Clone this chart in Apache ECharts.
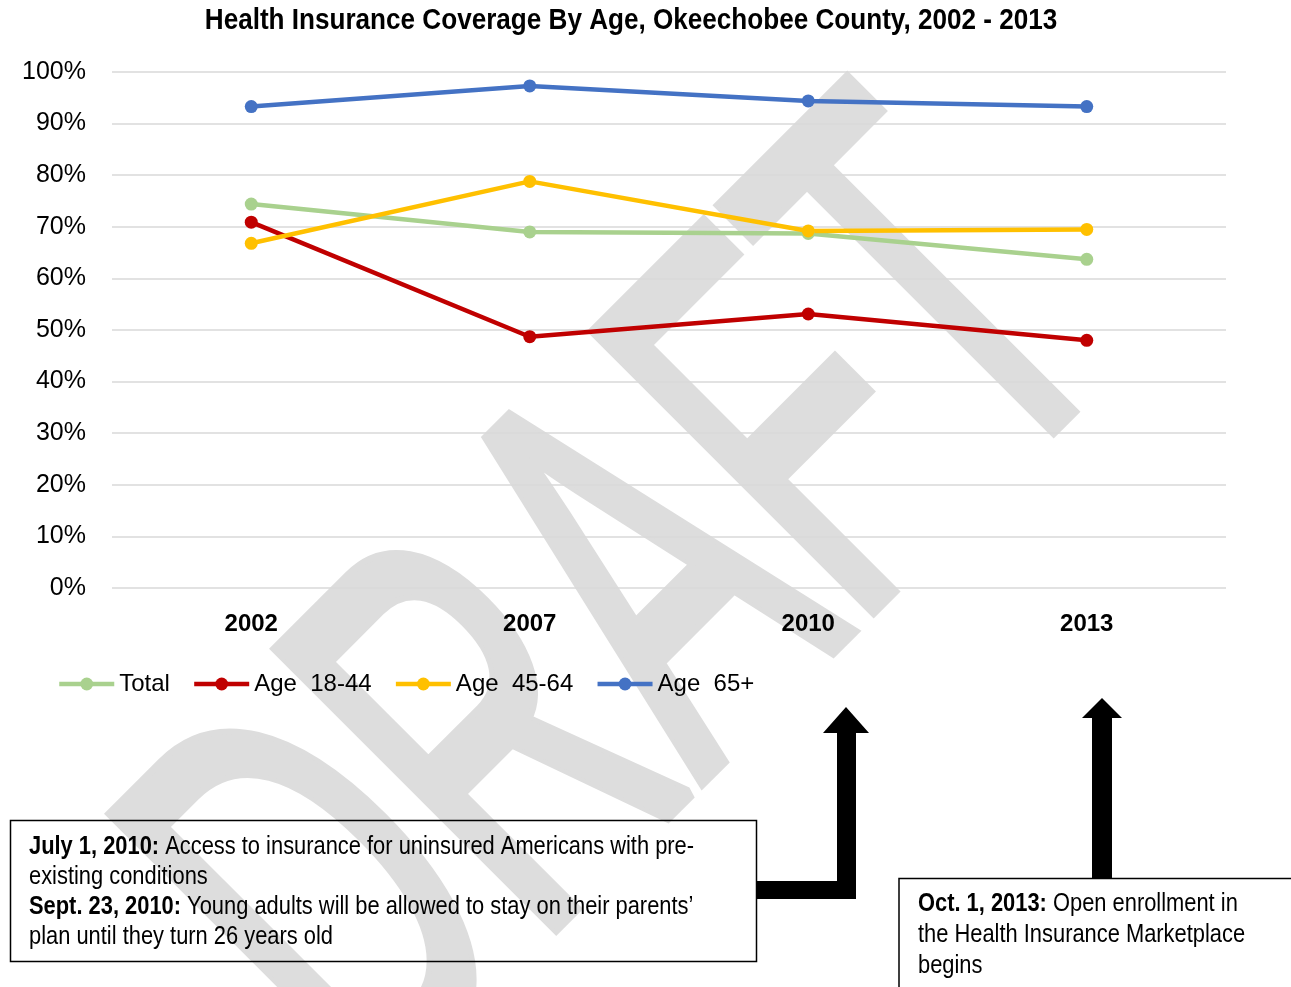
<!DOCTYPE html>
<html>
<head>
<meta charset="utf-8">
<script src="https://cdn.jsdelivr.net/npm/echarts@6/dist/echarts.min.js"></script>
<style>
html, body { margin: 0; padding: 0; background: #fff; }
#main { width: 1291px; height: 987px; }
</style>
</head>
<body>
<div id="main"></div>
<script>
// categories + values (percent)
var years = ['2002', '2007', '2010', '2013'];
var total = [74.4, 69.0, 68.7, 63.7];
var age1844 = [70.9, 48.7, 53.1, 48.0];
var age4564 = [66.8, 78.8, 69.2, 69.5];
var age65 = [93.3, 97.3, 94.4, 93.3];

var seriesNames = ['Total', 'Age  18-44', 'Age  45-64', 'Age  65+'];
var seriesColors = ['#a9d18e', '#c00000', '#ffc000', '#4472c4'];
var seriesData = [total, age1844, age4564, age65];

var FONT = '"Liberation Sans", Arial, sans-serif';
var NARROW = 0.875; // squeeze Arial to look like the narrow font of the original

function makeSeries() {
	var list = [];
	for (var i = 0; i < seriesData.length; i++) {
		list.push({
			name: seriesNames[i],
			type: 'line',
			data: seriesData[i],
			symbol: 'circle',
			symbolSize: 13,
			color: seriesColors[i],
			lineStyle: { width: 4.5, color: seriesColors[i] },
			itemStyle: { color: seriesColors[i] },
			z: 5
		});
	}
	return list;
}

var chart = echarts.init(document.getElementById('main'));

var option = {
	backgroundColor: '#fff',
	animation: false,
	legend: {
		left: 52,
		top: 667,
		itemWidth: 55,
		itemHeight: 16,
		itemGap: 22,
		lineStyle: { width: 4.5 },
		textStyle: { fontFamily: FONT, fontSize: 24, color: '#000' },
		data: seriesNames
	},
	grid: { left: 112, right: 65, top: 72, bottom: 399, containLabel: false },
	xAxis: {
		type: 'category',
		data: years,
		axisLine: { show: false },
		axisTick: { show: false },
		axisLabel: { fontFamily: FONT, fontSize: 24, fontWeight: 'bold', color: '#000', margin: 24 }
	},
	yAxis: {
		type: 'value',
		min: 0,
		max: 100,
		interval: 10,
		axisLine: { show: false },
		axisTick: { show: false },
		axisLabel: { fontFamily: FONT, fontSize: 25, color: '#000', margin: 26, formatter: '{value}%' },
		splitLine: { lineStyle: { color: '#d9d9d9', width: 1.5 } }
	},
	graphic: [
		// title
		{
			type: 'text',
			x: 631,
			y: 21,
			scaleX: 0.9,
			z: 30,
			style: {
				text: 'Health Insurance Coverage By Age, Okeechobee County, 2002 - 2013',
				fontFamily: FONT,
				fontSize: 29,
				fontWeight: 'bold',
				fill: '#000',
				align: 'center',
				verticalAlign: 'middle'
			}
		},
		// DRAFT watermark, under everything else
		{
			type: 'text',
			x: 640,
			y: 620,
			rotation: Math.PI / 4,
			scaleX: 0.567,
			z: -1,
			silent: true,
			style: {
				text: 'DRAFT',
				fontFamily: FONT,
				fontSize: 570,
				fill: '#dddddd',
				stroke: '#dddddd',
				lineWidth: 14,
				strokeNoScale: true,
				lineJoin: 'round',
				lineCap: 'round',
				align: 'center',
				verticalAlign: 'middle'
			}
		},
		// arrow to 2010
		{
			type: 'polygon',
			z: 20,
			shape: { points: [[846, 707], [869, 733], [856, 733], [856, 899], [756, 899], [756, 881], [837, 881], [837, 733], [823, 733]] },
			style: { fill: '#000' }
		},
		// arrow to 2013
		{
			type: 'polygon',
			z: 20,
			shape: { points: [[1102, 698], [1122, 718], [1112, 718], [1112, 878], [1092, 878], [1092, 718], [1082, 718]] },
			style: { fill: '#000' }
		},
		// left note box
		{
			type: 'rect',
			z: 20,
			shape: { x: 10.5, y: 820.5, width: 746, height: 141 },
			style: { fill: 'rgba(0,0,0,0)', stroke: '#000', lineWidth: 1.5 }
		},
		{
			type: 'text',
			z: 21,
			x: 29,
			y: 832,
			scaleX: NARROW,
			style: {
				text: '{b|July 1, 2010:} Access to insurance for uninsured Americans with pre-\nexisting conditions\n{b|Sept. 23, 2010:} Young adults will be allowed to stay on their parents\u2019\nplan until they turn 26 years old',
				fontFamily: FONT,
				fontSize: 25,
				lineHeight: 30,
				fill: '#000',
				rich: {
					b: { fontFamily: FONT, fontSize: 25, fontWeight: 'bold', lineHeight: 30, fill: '#000' }
				}
			}
		},
		// right note box
		{
			type: 'rect',
			z: 20,
			shape: { x: 899, y: 878.5, width: 420, height: 130 },
			style: { fill: 'rgba(0,0,0,0)', stroke: '#000', lineWidth: 1.5 }
		},
		{
			type: 'text',
			z: 21,
			x: 918,
			y: 888.5,
			scaleX: NARROW,
			style: {
				text: '{b|Oct. 1, 2013:} Open enrollment in\nthe Health Insurance Marketplace\nbegins',
				fontFamily: FONT,
				fontSize: 25,
				lineHeight: 31,
				fill: '#000',
				rich: {
					b: { fontFamily: FONT, fontSize: 25, fontWeight: 'bold', lineHeight: 31, fill: '#000' }
				}
			}
		}
	],
	series: makeSeries()
};

chart.setOption(option);
</script>
</body>
</html>
